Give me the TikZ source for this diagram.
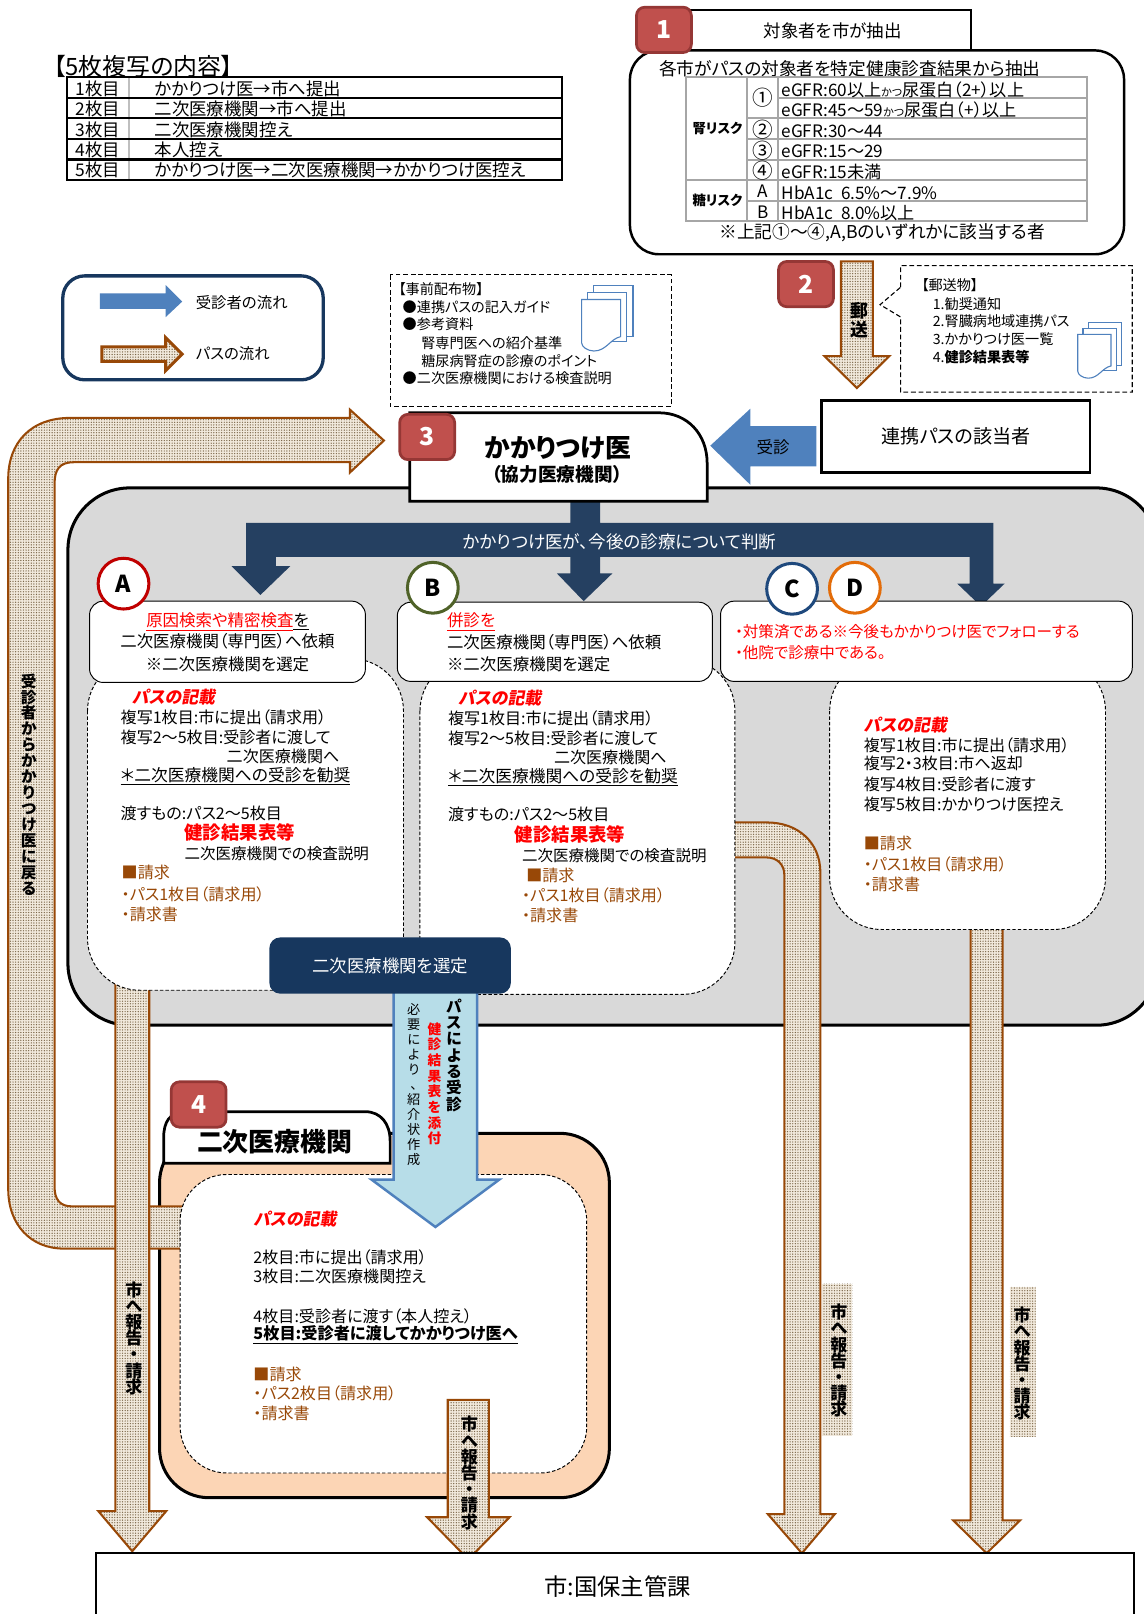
\documentclass[tikz,border=0pt]{standalone}
\usepackage{fontspec}
\usetikzlibrary{patterns}
\setmainfont[RawFeature=+palt]{Noto Sans CJK JP}
\newfontfamily\slantjp[FakeSlant=0.18,RawFeature=+palt]{Noto Sans CJK JP}
\newcommand{\fs}[1]{\fontsize{#1}{#1}\selectfont}
\makeatletter
\newcommand{\vtxt}[2]{\vbox{\baselineskip=#1\lineskiplimit=-20pt\relax\@tfor\vch:=#2\do{\hbox to 1.3em{\hss\vch\hss}}}}
\makeatother
\definecolor{pathline}{HTML}{984807}
\definecolor{pathbase}{HTML}{F1E9DC}
\definecolor{pathdot}{HTML}{7A6648}
\definecolor{flowblue}{HTML}{4F81BD}
\definecolor{navytee}{HTML}{254061}
\definecolor{navybox}{HTML}{17375E}
\definecolor{badgered}{HTML}{C0504D}
\definecolor{badgeline}{HTML}{953735}
\definecolor{peach}{HTML}{FCD5B5}
\definecolor{panelgray}{HTML}{D9D9D9}
\definecolor{iceblue}{HTML}{B7DDE8}
\definecolor{tablegray}{HTML}{A6A6A6}
\definecolor{ringA}{HTML}{C00000}
\definecolor{ringB}{HTML}{4F6228}
\definecolor{ringC}{HTML}{1F497D}
\definecolor{ringD}{HTML}{E36C09}
\pgfdeclarepatternformonly{pathdots}{\pgfqpoint{-1pt}{-1pt}}{\pgfqpoint{1pt}{1pt}}{\pgfqpoint{1.9pt}{1.9pt}}{\pgfpathcircle{\pgfqpoint{0pt}{0pt}}{.5pt}\pgfusepath{fill}}
\newcommand{\blockdown}[7]{\draw[#1] ({#2-#6},#3) -- ({#2+#6},#3) -- ({#2+#6},#4) -- ({#2+#7},#4) -- (#2,#5) -- ({#2-#7},#4) -- ({#2-#6},#4) -- cycle;}
\newcommand{\docstack}[3]{%
  \begin{scope}[shift={(#1,#2)},scale=#3,x=.75pt,y=-.75pt,draw=flowblue,line width=.8pt,fill=white]
    \draw[fill=white] (12,0) rectangle (50,50);
    \draw[fill=white] (6,7) rectangle (44,55);
    \draw[fill=white] (0,14) -- (38,14) -- (38,50) .. controls (28,52) and (24,64) .. (12,64) .. controls (6,64) and (0,60) .. (0,56) -- cycle;
  \end{scope}}
\begin{document}
\begin{tikzpicture}[
  x=.75pt, y=-.75pt,
  txt/.style = {anchor=west,inner sep=0pt,font=\fs{11.7}},
  copytxt/.style = {txt,font=\fs{12.7}},
  rowtxt/.style = {txt,font=\fs{12.5}},
  small/.style = {txt,font=\fs{10.3}},
  lead/.style = {txt,font=\slantjp\bfseries\fs{12.3},text=red},
  bill/.style = {txt,text=pathline},
  strong/.style = {txt,font=\bfseries\fs{13.4},text=red},
  badge/.style = {draw=badgeline,line width=2pt,fill=badgered,rounded corners=6pt,minimum width=40pt,minimum height=33pt,inner sep=0pt,text=white,font=\bfseries\fs{18}},
  letter/.style = {circle,fill=white,line width=2.2pt,minimum width=37pt,inner sep=0pt,font=\bfseries\fs{17}},
  pathflow/.style = {draw=pathline,line width=1.5pt,preaction={fill=pathbase},pattern=pathdots,pattern color=pathdot},
  dashbox/.style = {draw=black,dash pattern=on 2.5pt off 1.5pt,line width=.7pt,fill=white,rounded corners=38pt},
  headbox/.style = {draw=black,line width=.7pt,fill=white,rounded corners=10pt},
  table line/.style = {line width=1.6pt,draw=black},
  gray line/.style = {line width=1.4pt,draw=tablegray},
  vlabel/.style = {inner sep=0pt,font=\bfseries\fs{12.4}}
  ]
  \useasboundingbox (0,0) rectangle (1111,1568);

  % copies table
  \node[txt,font=\fs{17.4}] (copyTitle) at (52,65) {【5枚複写の内容】};
  \draw[gray line,draw=gray!50] (125,75) -- (125,175);
  \draw[table line] (65,75) rectangle (546,175);
  \draw[table line] (65,95) -- (546,95);
  \draw[table line] (65,115) -- (546,115);
  \draw[table line] (65,135) -- (546,135);
  \draw[table line] (65,155) -- (546,155);
  \node[copytxt] (copy1) at (73,86) {1枚目};
  \node[copytxt] (copy2) at (73,106) {2枚目};
  \node[copytxt] (copy3) at (73,126) {3枚目};
  \node[copytxt] (copy4) at (73,146) {4枚目};
  \node[copytxt] (copy5) at (73,165) {5枚目};
  \node[copytxt] (copy1b) at (150,86) {かかりつけ医→市へ提出};
  \node[copytxt] (copy2b) at (150,106) {二次医療機関→市へ提出};
  \node[copytxt] (copy3b) at (150,126) {二次医療機関控え};
  \node[copytxt] (copy4b) at (150,146) {本人控え};
  \node[copytxt] (copy5b) at (150,165) {かかりつけ医→二次医療機関→かかりつけ医控え};

  % step 1
  \draw[line width=1.6pt,fill=white] (660,10) rectangle (943,60);
  \node[txt,anchor=center,font=\fs{12.7}] (step1text) at (809,30) {対象者を市が抽出};
  \draw[line width=1.8pt,fill=white,rounded corners=21pt] (612,49) rectangle (1092,247);
  \node[badge] (badge1) at (645,29) {1};
  \node[txt,font=\fs{12.9}] (extract) at (640,67) {各市がパスの対象者を特定健康診査結果から抽出};
  \draw[gray line] (666,75) rectangle (1056,215);
  \draw[gray line] (726,75) -- (726,215);
  \draw[gray line] (756,75) -- (756,215);
  \draw[gray line] (756,95) -- (1056,95);
  \draw[gray line] (726,115) -- (1056,115);
  \draw[gray line] (726,135) -- (1056,135);
  \draw[gray line] (726,155) -- (1056,155);
  \draw[gray line] (666,175) -- (1056,175);
  \draw[gray line] (726,195) -- (1056,195);
  \node[txt,anchor=center,font=\bfseries\fs{9.8}] (kidney) at (697,125) {腎リスク};
  \node[txt,anchor=center,font=\bfseries\fs{9.8}] (sugar) at (697,195) {糖リスク};
  \node[txt,anchor=center,font=\fs{15}] (c1) at (741,95) {①};
  \node[txt,anchor=center,font=\fs{15}] (c2) at (741,126) {②};
  \node[txt,anchor=center,font=\fs{15}] (c3) at (741,146) {③};
  \node[txt,anchor=center,font=\fs{15}] (c4) at (741,166) {④};
  \node[rowtxt,anchor=center] (cA) at (741,186) {A};
  \node[rowtxt,anchor=center] (cB) at (741,206) {B};
  \node[rowtxt] (row1) at (759,87) {eGFR:60以上{\fs{8}かつ}尿蛋白（2+）以上};
  \node[rowtxt] (row2) at (759,107) {eGFR:45〜59{\fs{8}かつ}尿蛋白（+）以上};
  \node[rowtxt] (row3) at (759,127) {eGFR:30〜44};
  \node[rowtxt] (row4) at (759,147) {eGFR:15〜29};
  \node[rowtxt] (row5) at (759,167) {eGFR:15未満};
  \node[rowtxt] (row6) at (759,187) {HbA1c\ \ 6.5\%〜7.9\%};
  \node[rowtxt] (row7) at (759,207) {HbA1c\ \ 8.0\%以上};
  \node[txt,anchor=center,font=\fs{12.9}] (riskNote) at (857,226) {※上記①〜④,A,Bのいずれかに該当する者};

  % legend
  \draw[draw=navybox,line width=2.4pt,fill=white,rounded corners=16pt] (61,268) rectangle (314,369);
  \fill[flowblue] (97,285) -- (161,285) -- (161,277) -- (177,293) -- (161,308) -- (161,300) -- (97,300) -- cycle;
  \draw[pathflow,line width=2.2pt] (99,337) -- (161,337) -- (161,328) -- (177,344) -- (161,360) -- (161,351) -- (99,351) -- cycle;
  \node[small,font=\fs{11.2}] (legend1) at (190,294) {受診者の流れ};
  \node[small,font=\fs{11.2}] (legend2) at (190,344) {パスの流れ};

  % handouts
  \draw[dash pattern=on 3.5pt off 2pt,line width=.8pt] (379,267) rectangle (652,395);
  \node[small] (hand0) at (387,281) {【事前配布物】};
  \node[small] (hand1) at (391,298) {●連携パスの記入ガイド};
  \node[small] (hand2) at (391,315) {●参考資料};
  \node[small] (hand3) at (409,333) {腎専門医への紹介基準};
  \node[small] (hand4) at (409,351) {糖尿病腎症の診療のポイント};
  \node[small] (hand5) at (391,367) {●二次医療機関における検査説明};
  \docstack{565}{277}{1};

  % step 2
  \blockdown{pathflow}{832.5}{254}{346}{377}{15.5}{31.5}
  \node[vlabel,font=\bfseries\fs{13}] (mail) at (835,311) {\vtxt{13.5pt}{郵送}};
  \node[badge] (badge2) at (783,276) {2};
  \draw[dash pattern=on 3.5pt off 2pt,line width=.8pt] (875,279) -- (875,258) -- (1100,258) -- (1100,381) -- (875,381) -- (875,308) -- (855,296) -- cycle;
  \node[small] (mail0) at (895,277) {【郵送物】};
  \node[small] (mail1) at (906,295) {1.勧奨通知};
  \node[small] (mail2) at (906,312) {2.腎臓病地域連携パス};
  \node[small] (mail3) at (906,329) {3.かかりつけ医一覧};
  \node[small] (mail4) at (906,347) {4.{\bfseries 健診結果表等}};
  \docstack{1047}{313}{.85};

  % patient box
  \draw[line width=1.6pt,fill=white] (798,389) rectangle (1059,459);
  \node[txt,anchor=center,font=\fs{13.9}] (patient) at (929,424) {連携パスの該当者};
  \fill[flowblue] (793,414) -- (729,414) -- (729,397) -- (690,433) -- (729,471) -- (729,453) -- (793,453) -- cycle;
  \node[small,anchor=center,font=\fs{12}] (visit) at (751,434) {受診};

  % gray panel
  \draw[line width=2.2pt,fill=panelgray,rounded corners=45pt] (66,474) rectangle (1125,996);

  % step 4 frame
  \draw[line width=2.2pt,fill=peach,rounded corners=36pt] (155,1101) rectangle (592,1455);

  % big return path
  \draw[pathflow] (190,1172) -- (70,1172) .. controls (58,1172) and (53,1165) .. (53,1153) -- (53,470) .. controls (53,456) and (58,449) .. (72,449) -- (340,449) -- (340,459) -- (373,428) -- (340,398) -- (340,406) -- (68,406) .. controls (30,406) and (8,430) .. (8,465) -- (8,1155) .. controls (8,1190) and (30,1213) .. (62,1213) -- (190,1213) -- cycle;
  \node[vlabel,font=\bfseries\fs{11.4}] (backtext) at (28,762) {\vtxt{11.6pt}{受診者からかかりつけ医に戻る}};

  % report arrows
  \blockdown{pathflow}{128.5}{950}{1468}{1507}{16.5}{33}
  \node[vlabel] (report1) at (130,1300) {\vtxt{11.8pt}{市へ報告・請求}};
  \draw[pathflow] (700,799) -- (745,799) .. controls (775,799) and (797,818) .. (797,848) -- (797,1471) -- (811,1471) -- (779,1509) -- (746,1471) -- (762,1471) -- (762,850) .. controls (762,840) and (755,833) .. (745,833) -- (700,833) -- cycle;
  \blockdown{pathflow}{958.5}{890}{1477}{1509}{15.5}{32.5}

  % dashed cards
  \draw[dashbox] (85,640) rectangle (392,962);
  \draw[dashbox] (408,640) rectangle (714,966);
  \draw[dashbox] (806,640) rectangle (1074,903);
  \draw[dashbox,rounded corners=34pt] (175,1141) rectangle (570,1431);

  % decision tee
  \fill[navytee] (554,487) -- (583,487) -- (583,508) -- (965,508) -- (965,567) -- (976,567) -- (953,589) -- (930,567) -- (942,567) -- (942,541) -- (583,541) -- (583,557) -- (595,557) -- (567,584) -- (541,557) -- (554,557) -- (554,541) -- (268,541) -- (268,550) -- (282,550) -- (253,578) -- (225,550) -- (239,550) -- (239,508) -- (554,508) -- cycle;
  \node[txt,anchor=center,text=white,font=\fs{12.8}] (judge) at (602,526) {かかりつけ医が、今後の診療について判断};

  % head boxes
  \draw[headbox] (87,584) rectangle (355,663);
  \draw[headbox] (386,585) rectangle (692,662);
  \draw[headbox] (700,584) rectangle (1100,662);
  \node[letter,draw=ringA] (letterA) at (120,567) {A};
  \node[letter,draw=ringB] (letterB) at (420.5,571) {B};
  \node[letter,draw=ringC] (letterC) at (769.5,572) {C};
  \node[letter,draw=ringD] (letterD) at (830.5,571) {D};

  \node[txt,anchor=center,font=\fs{12}] (aHead1) at (221,604) {\textcolor{red}{\underline{原因検索や精密検査}}\underline{を}};
  \node[txt,anchor=center,font=\fs{12}] (aHead2) at (221,623) {二次医療機関（専門医）へ依頼};
  \node[txt,anchor=center,font=\fs{12}] (aHead3) at (221,645) {※二次医療機関を選定};
  \node[lead] (aLead) at (128,677) {パスの記載};
  \node[txt] (a1) at (117,697) {複写1枚目:市に提出（請求用）};
  \node[txt] (a2) at (117,716) {複写2〜5枚目:受診者に渡して};
  \node[txt] (a3) at (220,735) {二次医療機関へ};
  \node[txt,font=\fs{12.2}] (a4) at (117,754) {\underline{＊二次医療機関への受診を勧奨}};
  \node[txt] (a5) at (117,790) {渡すもの:パス2〜5枚目};
  \node[strong] (a6) at (179,809) {健診結果表等};
  \node[txt,font=\fs{11.3}] (a7) at (179,829) {二次医療機関での検査説明};
  \node[bill] (a8) at (118,848) {■請求};
  \node[bill] (a9) at (118,869) {・パス1枚目（請求用）};
  \node[bill] (a10) at (118,888) {・請求書};

  \node[txt,text=red,font=\fs{12}] (bHead1) at (434,604) {\underline{併診を}};
  \node[txt,font=\fs{12}] (bHead2) at (434,624) {二次医療機関（専門医）へ依頼};
  \node[txt,font=\fs{12}] (bHead3) at (434,645) {※二次医療機関を選定};
  \node[lead] (bLead) at (445,678) {パスの記載};
  \node[txt] (b1) at (435,698) {複写1枚目:市に提出（請求用）};
  \node[txt] (b2) at (435,717) {複写2〜5枚目:受診者に渡して};
  \node[txt] (b3) at (538,736) {二次医療機関へ};
  \node[txt,font=\fs{12.2}] (b4) at (435,755) {\underline{＊二次医療機関への受診を勧奨}};
  \node[txt] (b5) at (435,791) {渡すもの:パス2〜5枚目};
  \node[strong] (b6) at (500,811) {健診結果表等};
  \node[txt,font=\fs{11.3}] (b7) at (507,831) {二次医療機関での検査説明};
  \node[bill] (b8) at (511,850) {■請求};
  \node[bill] (b9) at (507,870) {・パス1枚目（請求用）};
  \node[bill] (b10) at (507,889) {・請求書};

  \node[txt,text=red,font=\fs{11.3}] (cHead1) at (714,614) {・対策済である※今後もかかりつけ医でフォローする};
  \node[txt,text=red,font=\fs{11.3}] (cHead2) at (714,634) {・他院で診療中である。};
  \node[lead] (cLead) at (839,704) {パスの記載};
  \node[txt] (c11) at (839,724) {複写1枚目:市に提出（請求用）};
  \node[txt] (c12) at (839,742) {複写2・3枚目:市へ返却};
  \node[txt] (c13) at (839,762) {複写4枚目:受診者に渡す};
  \node[txt] (c14) at (839,781) {複写5枚目:かかりつけ医控え};
  \node[bill] (c15) at (839,819) {■請求};
  \node[bill] (c16) at (839,840) {・パス1枚目（請求用）};
  \node[bill] (c17) at (839,859) {・請求書};

  % step 3
  \draw[line width=2pt,fill=white] (398,487) -- (398,401) -- (640,401) .. controls (668,401) and (687,422) .. (687,450) -- (687,487) -- cycle;
  \node[txt,anchor=center,font=\bfseries\fs{18.8}] (gp) at (542,435) {かかりつけ医};
  \node[txt,anchor=center,font=\bfseries\fs{13.6}] (gpSub) at (541,461) {（協力医療機関）};
  \node[badge] (badge3) at (415,424.5) {3};

  % step 4
  \draw[line width=2pt,fill=white] (159,1130) -- (159,1105) .. controls (159,1090) and (165,1080) .. (180,1080) -- (355,1080) .. controls (370,1080) and (379,1092) .. (379,1108) -- (379,1130) -- cycle;
  \node[txt,anchor=center,font=\bfseries\fs{18.9}] (hospital) at (267,1109) {二次医療機関};
  \node[badge] (badge4) at (193,1073) {4};
  \node[lead] (dLead) at (246,1184) {パスの記載};
  \node[txt] (d1) at (246,1222) {2枚目:市に提出（請求用）};
  \node[txt] (d2) at (246,1240) {3枚目:二次医療機関控え};
  \node[txt] (d3) at (246,1279) {4枚目:受診者に渡す（本人控え）};
  \node[txt,font=\bfseries\fs{11.8}] (d4) at (246,1297) {\underline{5枚目:受診者に渡してかかりつけ医へ}};
  \node[bill] (d5) at (246,1335) {■請求};
  \node[bill] (d6) at (246,1354) {・パス2枚目（請求用）};
  \node[bill] (d7) at (246,1373) {・請求書};

  % selected hospital
  \blockdown{draw=flowblue,line width=1.8pt,fill=iceblue}{423}{960}{1146}{1192}{40.5}{62}
  \node[rounded corners=8pt,fill=navybox,minimum width=176pt,minimum height=41pt,text=white,inner sep=0pt,font=\fs{12.7}] (choose) at (379,938) {二次医療機関を選定};
  \node[vlabel,anchor=north,font=\bfseries\fs{11.4}] (vis1) at (441,970) {\vtxt{11.9pt}{パスによる受診}};
  \node[vlabel,anchor=north,font=\bfseries\fs{10},text=red] (vis2) at (422,993) {\vtxt{11.4pt}{健診結果表を添付}};
  \node[vlabel,anchor=north,font=\fs{9.6}] (vis3) at (402,975) {\vtxt{10.9pt}{必要により、紹介状作成}};

  % last report arrows
  \blockdown{pathflow}{455}{1360}{1474}{1515}{20}{40}
  \node[vlabel] (report2) at (456,1431) {\vtxt{11.8pt}{市へ報告・請求}};
  \fill[pathbase,postaction={pattern=pathdots,pattern color=pathdot}] (799,1247) rectangle (828,1395);
  \node[vlabel] (report3) at (815,1322) {\vtxt{11.8pt}{市へ報告・請求}};
  \fill[pathbase,postaction={pattern=pathdots,pattern color=pathdot}] (981,1250) rectangle (1006,1396);
  \node[vlabel] (report4) at (993,1325) {\vtxt{11.8pt}{市へ報告・請求}};

  % city
  \draw[line width=1.6pt,fill=white] (93,1640) -- (93,1509) -- (1102,1509) -- (1102,1640);
  \node[txt,anchor=center,font=\fs{17}] (city) at (600,1541) {市:国保主管課};
\end{tikzpicture}
\end{document}
